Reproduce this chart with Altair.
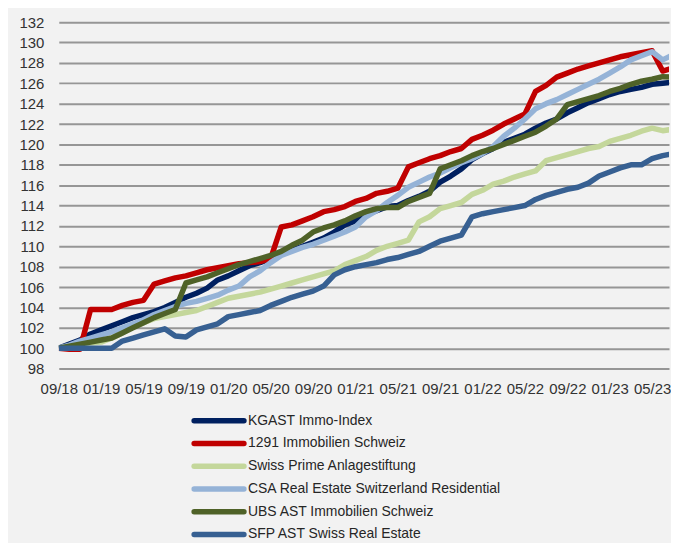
import altair as alt
import pandas as pd

names = ["KGAST Immo-Index", "1291 Immobilien Schweiz", "Swiss Prime Anlagestiftung",
         "CSA Real Estate Switzerland Residential", "UBS AST Immobilien Schweiz",
         "SFP AST Swiss Real Estate"]
colors = ["#002060", "#c00000", "#c4d79b", "#95b3d7", "#4f6228", "#376092"]
widths = [5.5, 5.5, 3.5, 3.5, 4, 3.5]
legend_widths = [5, 5, 3.5, 3.5, 3.5, 3.5]

x_labels = ["09/18", "01/19", "05/19", "09/19", "01/20", "05/20", "09/20", "01/21",
            "05/21", "09/21", "01/22", "05/22", "09/22", "01/23", "05/23"]

kgast = [100.0, 100.4, 100.8, 101.4, 101.8, 102.2, 102.6, 103.0, 103.3, 103.6,
         104.0, 104.5, 105.0, 105.4, 105.9, 106.7, 107.1, 107.6, 108.1, 108.4,
         108.8, 109.2, 109.6, 110.0, 110.4, 110.8, 111.4, 112.1, 112.5, 113.1,
         113.5, 113.9, 114.0, 114.5, 114.9, 115.4, 116.3, 116.9, 117.6, 118.5,
         119.1, 119.6, 120.2, 120.6, 121.0, 121.6, 122.1, 122.5, 123.1, 123.6,
         124.1, 124.5, 124.9, 125.2, 125.4, 125.6, 125.9, 126.0, 126.1]
i1291 = [100.0, 99.9, 99.9, 103.8, 103.8, 103.8, 104.2, 104.5, 104.7, 106.3,
         106.6, 106.9, 107.1, 107.4, 107.7, 107.9, 108.1, 108.3, 108.4, 108.5,
         108.8, 111.9, 112.1, 112.5, 112.9, 113.4, 113.6, 113.9, 114.4, 114.7,
         115.2, 115.4, 115.7, 117.8, 118.2, 118.6, 118.9, 119.3, 119.6, 120.5,
         120.9, 121.4, 122.0, 122.5, 123.0, 125.2, 125.8, 126.6, 127.0, 127.4,
         127.7, 128.0, 128.3, 128.6, 128.8, 129.0, 129.2, 127.2, 127.5]
swiss_prime = [100.0, 100.2, 100.4, 100.5, 100.6, 101.0, 101.5, 102.1, 102.5, 102.9,
               103.1, 103.3, 103.5, 103.7, 104.1, 104.5, 104.9, 105.1, 105.3, 105.5,
               105.8, 106.1, 106.4, 106.7, 107.0, 107.3, 107.6, 108.2, 108.6, 109.0,
               109.6, 110.0, 110.3, 110.6, 112.4, 112.9, 113.7, 114.0, 114.3, 115.1,
               115.5, 116.1, 116.4, 116.8, 117.1, 117.4, 118.4, 118.7, 119.0, 119.3,
               119.6, 119.8, 120.3, 120.6, 120.9, 121.3, 121.6, 121.35, 121.5]
csa = [100.0, 100.3, 100.7, 101.0, 101.3, 101.6, 102.0, 102.4, 102.8, 103.3,
       103.7, 104.1, 104.4, 104.6, 104.9, 105.2, 105.7, 106.1, 107.0, 107.6,
       108.4, 109.1, 109.5, 109.9, 110.2, 110.6, 111.0, 111.4, 111.9, 112.9,
       113.5, 114.3, 115.0, 115.8, 116.3, 116.8, 117.2, 117.7, 118.2, 118.6,
       119.1, 119.8, 120.8, 121.6, 122.5, 123.5, 124.0, 124.4, 124.9, 125.4,
       125.9, 126.4, 127.0, 127.6, 128.3, 128.7, 129.1, 128.3, 128.8]
ubs = [100.0, 100.2, 100.4, 100.6, 100.8, 101.0, 101.5, 102.0, 102.5, 103.0,
       103.4, 103.8, 106.4, 106.7, 107.0, 107.4, 107.8, 108.2, 108.5, 108.8,
       109.1, 109.5, 110.1, 110.6, 111.4, 111.8, 112.1, 112.5, 113.0, 113.4,
       113.7, 113.8, 113.8, 114.4, 114.8, 115.2, 117.6, 118.0, 118.4, 118.9,
       119.3, 119.6, 120.0, 120.4, 120.8, 121.2, 121.8, 122.5, 123.9, 124.2,
       124.5, 124.8, 125.2, 125.5, 125.9, 126.2, 126.4, 126.65, 126.6]
sfp = [100.0, 100.0, 100.0, 100.0, 100.0, 100.0, 100.7, 101.0, 101.3, 101.6,
       101.9, 101.2, 101.1, 101.8, 102.1, 102.4, 103.1, 103.3, 103.5, 103.7,
       104.2, 104.6, 105.0, 105.3, 105.6, 106.1, 107.2, 107.7, 108.0, 108.2,
       108.4, 108.7, 108.9, 109.2, 109.5, 110.0, 110.5, 110.8, 111.1, 112.9,
       113.2, 113.4, 113.6, 113.8, 114.0, 114.6, 115.0, 115.3, 115.6, 115.8,
       116.2, 116.9, 117.3, 117.7, 118.0, 118.0, 118.6, 118.9, 119.1]

series_values = [kgast, i1291, swiss_prime, csa, ubs, sfp]

rows = []
for name, vals in zip(names, series_values):
    for i, v in enumerate(vals):
        rows.append({"series": name, "m": i, "value": v})
df = pd.DataFrame(rows)

label_expr = "[" + ",".join("'%s'" % s for s in x_labels) + "][round(datum.value/4)]"

FONT = "Liberation Sans"

color_scale = alt.Scale(domain=names, range=colors)

main = alt.Chart(df).mark_line(clip=True, strokeJoin="round").encode(
    x=alt.X("m:Q",
            scale=alt.Scale(domain=[0, 57.6], nice=False, zero=False),
            axis=alt.Axis(values=list(range(0, 57, 4)), labelExpr=label_expr,
                          grid=False, ticks=False, domain=False, labelPadding=13,
                          labelFontSize=15, labelFont=FONT, labelColor="#333333",
                          title=None, labelOverlap=False, labelFlush=False)),
    y=alt.Y("value:Q",
            scale=alt.Scale(domain=[98, 132], nice=False, zero=False),
            axis=alt.Axis(values=list(range(98, 133, 2)), grid=True, ticks=False,
                          domain=False, labelPadding=15, labelFontSize=15,
                          labelFont=FONT, labelColor="#333333", title=None,
                          gridColor="#969696", gridWidth=2, labelOverlap=False)),
    color=alt.Color("series:N", scale=color_scale, legend=None),
    strokeWidth=alt.StrokeWidth("series:N", scale=alt.Scale(domain=names, range=widths), legend=None),
).properties(width=613, height=348)

leg_df = pd.DataFrame({"series": names, "idx": list(range(len(names)))})
leg_y = alt.Y("idx:Q", axis=None,
              scale=alt.Scale(domain=[-0.5, 5.5], reverse=True, nice=False, zero=False))

leg_rule = alt.Chart(leg_df).mark_rule(strokeCap="round").encode(
    x=alt.value(136), x2=alt.value(186), y=leg_y,
    color=alt.Color("series:N", scale=color_scale, legend=None),
    strokeWidth=alt.StrokeWidth("series:N", scale=alt.Scale(domain=names, range=legend_widths), legend=None),
)
leg_text = alt.Chart(leg_df).mark_text(align="left", baseline="middle", font=FONT,
                                       fontSize=14, color="#262626").encode(
    x=alt.value(190), y=leg_y, text="series:N",
)
legend = (leg_rule + leg_text).properties(width=400, height=137)

chart = alt.vconcat(main, legend, spacing=13).properties(
    background="#f2f2f2",
    padding={"left": 10, "top": 6, "right": 0, "bottom": 0},
).configure_view(stroke=None)

chart.save("out.html", embed_options={"renderer": "svg", "actions": False})
